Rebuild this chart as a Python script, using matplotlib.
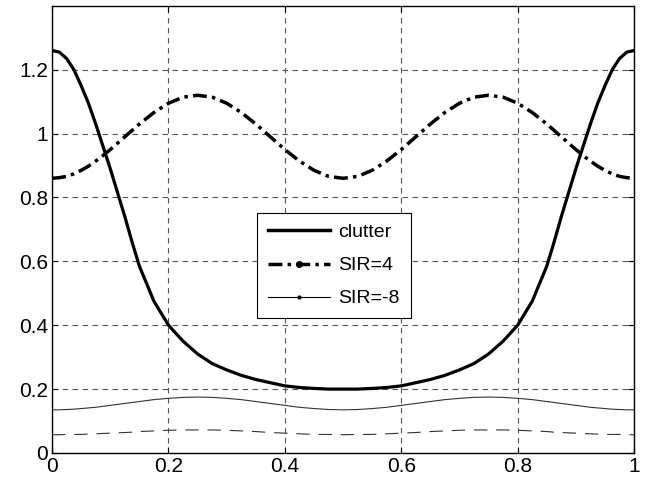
import numpy as np
import matplotlib.pyplot as plt
from matplotlib.lines import Line2D

plt.rcParams['font.family'] = ['Liberation Sans', 'DejaVu Sans']

x = [0.0, 0.0125, 0.025, 0.0375, 0.05, 0.0625, 0.075, 0.0875, 0.1, 0.1125, 0.125, 0.1375, 0.15,
     0.175, 0.2, 0.225, 0.25, 0.275, 0.3, 0.325, 0.35, 0.375, 0.4, 0.425, 0.45, 0.475, 0.5,
     0.525, 0.55, 0.575, 0.6, 0.625, 0.65, 0.675, 0.7, 0.725, 0.75, 0.775, 0.8, 0.825,
     0.85, 0.8625, 0.875, 0.8875, 0.9, 0.9125, 0.925, 0.9375, 0.95, 0.9625, 0.975, 0.9875, 1.0]

clutter = [1.26, 1.255, 1.235, 1.20, 1.15, 1.095, 1.03, 0.96, 0.89, 0.815, 0.74, 0.66, 0.585,
           0.475, 0.40, 0.35, 0.31, 0.28, 0.26, 0.243, 0.23, 0.22, 0.21, 0.205, 0.202, 0.2, 0.2,
           0.2, 0.202, 0.205, 0.21, 0.22, 0.23, 0.243, 0.26, 0.28, 0.31, 0.35, 0.40, 0.475,
           0.585, 0.66, 0.74, 0.815, 0.89, 0.96, 1.03, 1.095, 1.15, 1.20, 1.235, 1.255, 1.26]

sir4 = [0.86, 0.862, 0.866, 0.874, 0.885, 0.898, 0.914, 0.931, 0.95, 0.970, 0.99, 1.010, 1.030,
        1.066, 1.095, 1.114, 1.12, 1.114, 1.095, 1.066, 1.030, 0.99, 0.95, 0.914, 0.885, 0.866, 0.86,
        0.866, 0.885, 0.914, 0.95, 0.99, 1.030, 1.066, 1.095, 1.114, 1.12, 1.114, 1.095, 1.066,
        1.030, 1.010, 0.99, 0.970, 0.95, 0.931, 0.914, 0.898, 0.885, 0.874, 0.866, 0.862, 0.86]

sir_m8 = [0.135, 0.135, 0.136, 0.137, 0.139, 0.141, 0.143, 0.146, 0.149, 0.152, 0.155, 0.158, 0.161,
          0.167, 0.171, 0.174, 0.175, 0.174, 0.171, 0.167, 0.161, 0.155, 0.149, 0.143, 0.139, 0.136, 0.135,
          0.136, 0.139, 0.143, 0.149, 0.155, 0.161, 0.167, 0.171, 0.174, 0.175, 0.174, 0.171, 0.167,
          0.161, 0.158, 0.155, 0.152, 0.149, 0.146, 0.143, 0.141, 0.139, 0.137, 0.136, 0.135, 0.135]

noise = [0.057, 0.057, 0.058, 0.058, 0.058, 0.059, 0.060, 0.061, 0.062, 0.063, 0.064, 0.065, 0.067,
         0.069, 0.071, 0.072, 0.072, 0.072, 0.071, 0.069, 0.067, 0.064, 0.062, 0.060, 0.058, 0.058, 0.057,
         0.058, 0.058, 0.060, 0.062, 0.064, 0.067, 0.069, 0.071, 0.072, 0.072, 0.072, 0.071, 0.069,
         0.067, 0.065, 0.064, 0.063, 0.062, 0.061, 0.060, 0.059, 0.058, 0.058, 0.058, 0.057, 0.057]

fig = plt.figure(figsize=(6.51, 4.86), dpi=100)
ax = fig.add_axes([0.08, 0.068, 0.894, 0.92])

ax.plot(x, clutter, color='k', lw=2.3)
ax.plot(x, sir4, color='k', lw=2.5, ls=(0, (4, 1.5, 1, 1.5)))
ax.plot(x, sir_m8, color='#333333', lw=0.8)
ax.plot(x, noise, color='#333333', lw=0.8, ls=(0, (12, 8)))

ax.set_xlim(0, 1)
ax.set_ylim(0, 1.4)
ax.set_xticks([0, 0.2, 0.4, 0.6, 0.8, 1])
ax.set_xticklabels(['0', '0.2', '0.4', '0.6', '0.8', '1'])
ax.set_yticks([0, 0.2, 0.4, 0.6, 0.8, 1, 1.2])
ax.set_yticklabels(['0', '0.2', '0.4', '0.6', '0.8', '1', '1.2'])
ax.tick_params(direction='in', top=True, right=True, labelsize=15, length=4, pad=3)
ax.grid(True, color='#555555', ls=(0, (5, 4)), lw=0.8)
for s in ax.spines.values():
    s.set_linewidth(1.0)

handles = [Line2D([], [], color='k', lw=2.5),
           Line2D([], [], color='k', lw=2.5, ls=(0, (4, 1.5, 1, 1.5)), marker='.', markersize=8),
           Line2D([], [], color='k', lw=0.8, marker='.', markersize=4)]
leg = ax.legend(handles, ['clutter', 'SIR=4', 'SIR=-8'], loc='upper left',
                bbox_to_anchor=(0.352, 0.537), borderaxespad=0,
                fontsize=14, fancybox=False, framealpha=1, edgecolor='k',
                handlelength=3.2, handletextpad=0.45, borderpad=0.55, labelspacing=0.8)
leg.get_frame().set_linewidth(0.8)

plt.savefig('out.png', dpi=100)
